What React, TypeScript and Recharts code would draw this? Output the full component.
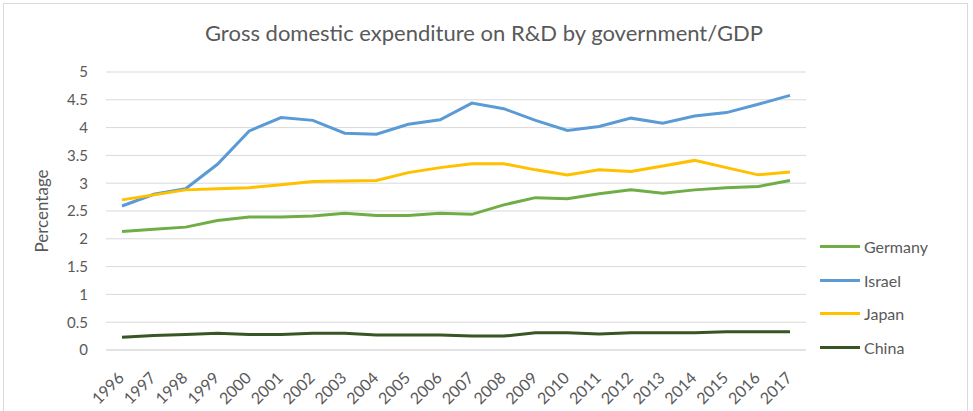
import React from 'react';
import { LineChart, Line, XAxis, YAxis, CartesianGrid } from 'recharts';

const years = ['1996','1997','1998','1999','2000','2001','2002','2003','2004','2005','2006','2007','2008','2009','2010','2011','2012','2013','2014','2015','2016','2017'];
const germany = [2.13,2.17,2.21,2.33,2.39,2.39,2.41,2.46,2.42,2.42,2.46,2.44,2.61,2.74,2.72,2.81,2.88,2.82,2.88,2.92,2.94,3.05];
const israel = [2.59,2.8,2.9,3.34,3.94,4.18,4.13,3.9,3.88,4.06,4.14,4.44,4.34,4.13,3.95,4.02,4.17,4.08,4.21,4.27,4.42,4.58];
const japan = [2.7,2.79,2.88,2.9,2.92,2.97,3.03,3.04,3.05,3.19,3.28,3.35,3.35,3.24,3.15,3.24,3.21,3.31,3.41,3.28,3.15,3.2];
const china = [0.23,0.26,0.28,0.3,0.28,0.28,0.3,0.3,0.27,0.27,0.27,0.25,0.25,0.31,0.31,0.29,0.31,0.31,0.31,0.33,0.33,0.33];
const yTicks = [0,0.5,1,1.5,2,2.5,3,3.5,4,4.5,5];

const seriesNames = ['Germany','Israel','Japan','China'];
const seriesColors = ['#70AD47','#5B9BD5','#FFC000','#375623'];
const seriesValues = [germany, israel, japan, china];

const data = years.map((y, i) => {
  const row: any = { year: y };
  seriesNames.forEach((n, k) => { row[n] = seriesValues[k][i]; });
  return row;
});

const FONT = 'Lato, "Open Sans", sans-serif';
const TEXT = '#595959';
const GRID = '#d9d9d9';

const XTick = (props: any) => {
  const { x, y, payload } = props;
  return (
    <g transform={`translate(${x + 3},${y + 29})`}>
      <text textAnchor="end" transform="rotate(-45)" fill={TEXT} fontSize={16} fontFamily={FONT}>{payload.value}</text>
    </g>
  );
};

const YLabel = () => {
  const cx = 41;
  const cy = 211;
  return (
    <text x={cx} y={cy} transform={`rotate(-90,${cx},${cy})`} textAnchor="middle" dominantBaseline="central" fill={TEXT} fontSize={17} fontFamily={FONT}>Percentage</text>
  );
};

export default function App() {
  return (
    <div style={{ position: 'absolute', left: 0, top: 0, width: 973, height: 411, background: '#fff', overflow: 'hidden' }}>
      <div style={{ position: 'absolute', left: 3, top: 3, width: 965, height: 420, border: '1px solid #d9d9d9', boxSizing: 'border-box' }} />
      <div style={{ position: 'absolute', left: 0, top: 18, width: 968, textAlign: 'center', fontFamily: FONT, fontSize: 22, color: TEXT, lineHeight: '30px' }}>
        Gross domestic expenditure on R&amp;D by government/GDP
      </div>
      <div style={{ position: 'absolute', left: 0, top: 0 }}>
        <LineChart width={973} height={411} data={data} margin={{ top: 72, right: 167, bottom: 11, left: 46 }}>
          <CartesianGrid vertical={false} stroke={GRID} strokeWidth={1} />
          <XAxis dataKey="year" interval={0} tick={<XTick />} tickLine={false} tickSize={0} tickMargin={0} axisLine={{ stroke: GRID }} height={50} padding={{ left: 16, right: 16 }} />
          <YAxis domain={[0, 5]} ticks={yTicks} interval={0} width={60} axisLine={false} tickLine={false} tickSize={0} tickMargin={18}
            tick={{ fill: TEXT, fontSize: 15, fontFamily: FONT }} label={<YLabel />} />
          {seriesNames.map((n, k) => (
            <Line key={n} type="linear" dataKey={n} stroke={seriesColors[k]} strokeWidth={3} dot={false} isAnimationActive={false} />
          ))}
        </LineChart>
      </div>
      <div style={{ position: 'absolute', left: 820, top: 230, fontFamily: FONT, fontSize: 16, color: TEXT }}>
        {seriesNames.map((n, k) => (
          <div key={n} style={{ display: 'flex', alignItems: 'center', height: 33.5 }}>
            <span style={{ display: 'inline-block', width: 40, height: 3, background: seriesColors[k], marginRight: 4 }} />
            <span>{n}</span>
          </div>
        ))}
      </div>
    </div>
  );
}
